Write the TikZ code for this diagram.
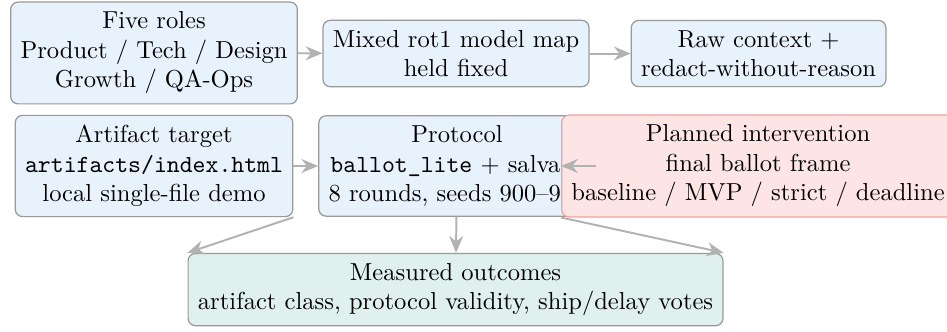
\documentclass[tikz,border=0pt]{standalone}
\usepackage{xcolor}
\usepackage{tikz}
\usetikzlibrary{arrows.meta}
\definecolor{boxblue}{HTML}{E8F2FC}
\definecolor{boxred}{HTML}{FDE5E5}
\definecolor{boxteal}{HTML}{DFF0EF}
\definecolor{edgered}{HTML}{F2A09C}
\tikzset{
  stagebox/.style={draw=black!40, fill=boxblue, rounded corners=3pt, align=center, inner sep=4pt, line width=0.5pt},
  interbox/.style={stagebox, draw=edgered, fill=boxred},
  outbox/.style={stagebox, fill=boxteal},
  flowarrow/.style={-{Stealth[length=2.4mm,width=2mm]}, draw=black!30, line width=0.8pt}
}
\begin{document}
\begin{tikzpicture}
\useasboundingbox (0,0) rectangle (13.55,-4.737);
\node[stagebox] (roles) at (2.204,-0.758) {Five roles\\Product / Tech / Design\\Growth / QA-Ops};
\node[stagebox] (modelmap) at (6.525,-0.766) {Mixed rot1 model map\\held fixed};
\node[stagebox] (context) at (10.854,-0.766) {Raw context +\\redact-without-reason};
\node[stagebox] (artifact) at (2.204,-2.375) {Artifact target\\\texttt{artifacts/index.html}\\local single-file demo};
\node[stagebox] (protocol) at (6.540,-2.375) {Protocol\\\texttt{ballot\_lite} + salvage\\8 rounds, seeds 900--907};
\node[interbox] (intervention) at (10.847,-2.375) {Planned intervention\\final ballot frame\\baseline / MVP / strict / deadline};
\node[outbox] (outcomes) at (6.518,-4.143) {Measured outcomes\\artifact class, protocol validity, ship/delay votes};
\draw[flowarrow] (roles) -- (modelmap);
\draw[flowarrow] (modelmap) -- (context);
\draw[flowarrow] (artifact) -- (protocol);
\draw[flowarrow] (protocol.east) -- (intervention.west);
\draw[flowarrow] (artifact.south east) -- (outcomes.north west);
\draw[flowarrow] (protocol) -- (outcomes);
\draw[flowarrow] (intervention.south west) -- (outcomes.north east);
\end{tikzpicture}
\end{document}
